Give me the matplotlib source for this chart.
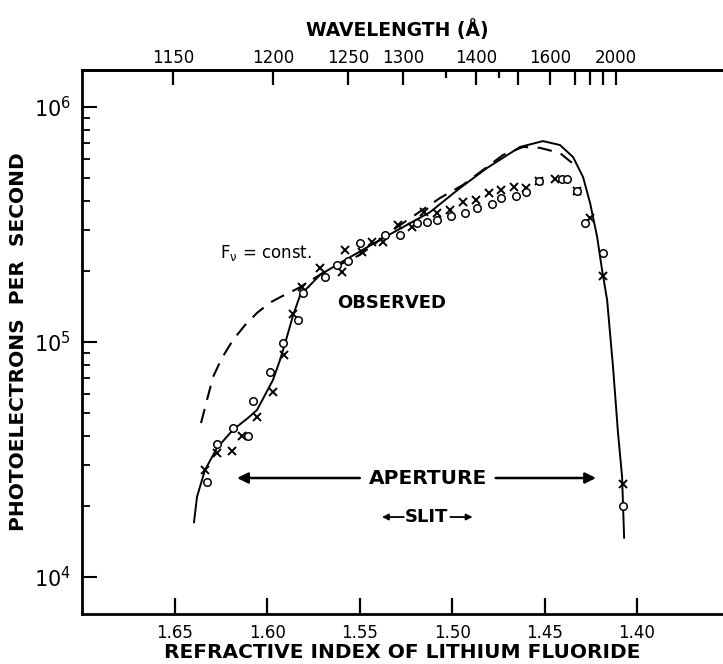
import numpy as np
import matplotlib
matplotlib.use("Agg")
import matplotlib.pyplot as plt
from matplotlib.ticker import FixedLocator, NullFormatter

plt.rcParams['font.family'] = ['DejaVu Sans']

# ---------------- data ----------------
# Solid "observed" smooth curve: refractive index, photoelectrons/s
solid_n = [1.6397, 1.6381, 1.6338, 1.6273, 1.6186, 1.6105, 1.6056, 1.6013, 1.5970,
           1.5932, 1.5899, 1.5861, 1.5823, 1.5715, 1.5607, 1.5391, 1.5120, 1.4958,
           1.4812, 1.4633, 1.4509, 1.4417, 1.4346, 1.4292, 1.4254, 1.4216, 1.4189,
           1.4162, 1.4130, 1.4103, 1.4081, 1.4070]
solid_y = [1.71e4, 2.19e4, 2.85e4, 3.54e4, 4.23e4, 4.75e4, 5.14e4, 5.95e4, 6.89e4,
           8.37e4, 1.02e5, 1.30e5, 1.58e5, 1.93e5, 2.17e5, 2.72e5, 3.57e5, 4.52e5,
           5.50e5, 6.76e5, 7.16e5, 6.89e5, 6.12e5, 5.03e5, 3.90e5, 2.80e5, 2.02e5,
           1.51e5, 7.83e4, 4.10e4, 2.67e4, 1.47e4]

# Dashed "F_nu = const." curve
dash_n = [1.6359, 1.6327, 1.6294, 1.6246, 1.6186, 1.6121, 1.6056, 1.5986, 1.5932,
          1.5823, 1.5699, 1.5499, 1.5299, 1.5066, 1.4942, 1.4725, 1.4617, 1.4525,
          1.4417, 1.4325]
dash_y = [4.52e4, 5.66e4, 7.10e4, 8.55e4, 1.02e5, 1.18e5, 1.33e5, 1.47e5, 1.55e5,
          1.71e5, 1.97e5, 2.35e5, 3.08e5, 4.10e5, 4.66e5, 6.25e5, 6.76e5, 6.70e5,
          6.37e5, 5.56e5]

# Observed points, crosses
cross_n = [1.6338, 1.6273, 1.6192, 1.6137, 1.6056, 1.5970, 1.5910, 1.5861, 1.5813,
           1.5715, 1.5596, 1.5580, 1.5488, 1.5434, 1.5374, 1.5293, 1.5218, 1.5153,
           1.5082, 1.5012, 1.4942, 1.4871, 1.4801, 1.4736, 1.4666, 1.4601, 1.4530,
           1.4444, 1.4325, 1.4254, 1.4184, 1.4076]
cross_y = [28500, 33700, 34400, 39800, 47960, 61300, 88000, 131600, 171400,
           206500, 198600, 246300, 241500, 266400, 266400, 314800, 308600, 357500,
           354000, 364500, 394200, 402100, 430500, 443400, 456700, 452300, 484300,
           493900, 439100, 337100, 190900, 24870]

# Observed points, circles
circle_n = [1.6327, 1.6273, 1.6186, 1.6105, 1.6078, 1.5986, 1.5916, 1.5834, 1.5807,
            1.5688, 1.5623, 1.5564, 1.5499, 1.5364, 1.5282, 1.5190, 1.5136, 1.5082,
            1.5006, 1.4931, 1.4866, 1.4785, 1.4736, 1.4655, 1.4601, 1.4530, 1.4406,
            1.4379, 1.4325, 1.4281, 1.4184, 1.4076]
circle_y = [25370, 36810, 43050, 39810, 56090, 74530, 99010, 124000, 161600,
            189100, 212700, 221100, 263800, 285300, 285300, 321000, 324100, 330500,
            343900, 354000, 371700, 386600, 410000, 418100, 434600, 484300, 493900,
            493900, 439100, 321000, 239200, 20060]

# Bottom axis ticks
x_ticks = [1.65, 1.60, 1.55, 1.50, 1.45, 1.40]
x_tick_labels = ['1.65', '1.60', '1.55', '1.50', '1.45', '1.40']

# Top axis: wavelength (Angstrom) and corresponding refractive index positions
wl_major = [1150, 1200, 1250, 1300, 1400, 1500, 1600, 1700, 1800, 1900, 2000]
wl_major_n = [1.6511, 1.5970, 1.5564, 1.5266, 1.4871, 1.4644, 1.4471, 1.4335,
              1.4254, 1.4184, 1.4114]
wl_labels = ['1150', '1200', '1250', '1300', '1400', '', '1600', '', '', '', '2000']
wl_short = [1150, 1250, 1350, 1450]
wl_short_n = [1.6511, 1.5564, 1.5034, 1.4747]

y_ticks = [1e4, 1e5, 1e6]
y_tick_labels = [r'$10^4$', r'$10^5$', r'$10^6$']
y_minor = [m * d for d in (1e4, 1e5) for m in range(2, 10)]

# ---------------- figure ----------------
W, H = 723, 664
fig = plt.figure(figsize=(W / 100, H / 100), dpi=100)
ax = fig.add_axes([82 / W, 50 / H, (W - 82) / W, (614 - 70) / H])

ax.set_yscale('log')
ax.set_xlim(1.7003, 1.3535)
ax.set_ylim(6960, 1.437e6)

ax.plot(solid_n, solid_y, color='black', lw=1.4)
ax.plot(dash_n, dash_y, color='black', lw=1.5, dashes=(7, 4.5))
ax.plot(cross_n, cross_y, linestyle='none', marker='x', ms=5.5, mew=1.4, color='black')
ax.plot(circle_n, circle_y, linestyle='none', marker='o', ms=5.4, mew=1.1,
        mfc='white', mec='black')

# spines
for s in ['left', 'bottom', 'top']:
    ax.spines[s].set_linewidth(2.0)
ax.spines['right'].set_visible(False)

# bottom ticks
ax.set_xticks(x_ticks)
ax.set_xticklabels(x_tick_labels)
ax.tick_params(axis='x', which='major', direction='in', length=11.5, width=1.6,
               labelsize=12, pad=7, top=False)
ax.tick_params(axis='x', which='minor', bottom=False, top=False)

# left ticks
ax.yaxis.set_major_locator(FixedLocator(y_ticks))
ax.set_yticklabels(y_tick_labels)
ax.yaxis.set_minor_locator(FixedLocator(y_minor))
ax.yaxis.set_minor_formatter(NullFormatter())
ax.tick_params(axis='y', which='major', direction='in', length=10.5, width=1.5,
               labelsize=15, pad=8, right=False)
ax.tick_params(axis='y', which='minor', direction='in', length=5.5, width=1.3,
               right=False)

# top axis (wavelength)
axt = ax.twiny()
axt.set_xlim(ax.get_xlim())
axt.spines['right'].set_visible(False)
axt.spines['top'].set_linewidth(2.0)
axt.set_xticks(wl_major_n)
axt.set_xticklabels(wl_labels)
axt.xaxis.set_minor_locator(FixedLocator(wl_short_n))
axt.tick_params(axis='x', which='major', direction='in', length=11, width=1.6,
                labelsize=12, pad=2)
axt.tick_params(axis='x', which='minor', direction='in', length=5.5, width=1.6)

# axis labels
ax.set_xlabel('REFRACTIVE INDEX OF LITHIUM FLUORIDE', fontsize=14.5,
              fontweight='bold', labelpad=1)
ax.set_ylabel('PHOTOELECTRONS  PER  SECOND', fontsize=14.5, fontweight='bold',
              labelpad=4)
fig.text(397 / W, 1 - 30 / H, 'WAVELENGTH (Å)', fontsize=13.5, fontweight='bold',
         ha='center', va='center')

# annotations
ax.text(1.6256, 2.39e5, r'$\mathregular{F_\nu}$ = const.', fontsize=12,
        ha='left', va='center')
ax.text(1.5326, 1.465e5, 'OBSERVED', fontsize=13, fontweight='bold',
        ha='center', va='center')
ax.text(1.5131, 26380, 'APERTURE', fontsize=14.5, fontweight='bold',
        ha='center', va='center')
ax.annotate('', xy=(1.6164, 26380), xytext=(1.5500, 26380),
            arrowprops=dict(arrowstyle='-|>', color='black', lw=1.8,
                            mutation_scale=16, shrinkA=0, shrinkB=0))
ax.annotate('', xy=(1.4222, 26380), xytext=(1.4765, 26380),
            arrowprops=dict(arrowstyle='-|>', color='black', lw=1.8,
                            mutation_scale=16, shrinkA=0, shrinkB=0))
ax.text(1.5138, 18000, 'SLIT', fontsize=13, fontweight='bold',
        ha='center', va='center')
ax.annotate('', xy=(1.5380, 18000), xytext=(1.5262, 18000),
            arrowprops=dict(arrowstyle='-|>', color='black', lw=1.3,
                            mutation_scale=9, shrinkA=0, shrinkB=0))
ax.annotate('', xy=(1.4890, 18000), xytext=(1.5010, 18000),
            arrowprops=dict(arrowstyle='-|>', color='black', lw=1.3,
                            mutation_scale=9, shrinkA=0, shrinkB=0))

fig.savefig('out.png', dpi=100)
